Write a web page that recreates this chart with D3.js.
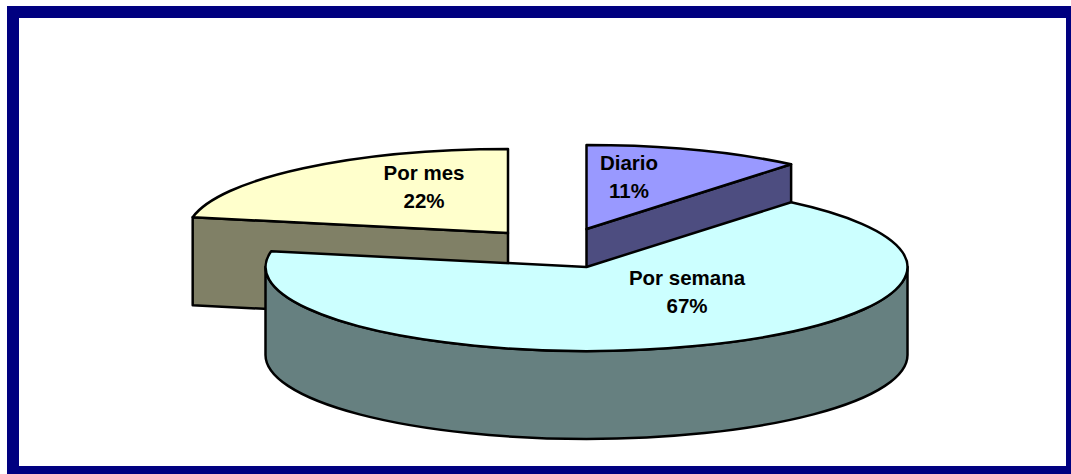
<!DOCTYPE html>
<html>

<head>
  <title>Frecuencia</title>
  <script src="https://d3js.org/d3.v7.min.js"></script>
  <style type="text/css">
    html, body {
      margin: 0;
      padding: 0;
      background: white;
    }

    svg {
      display: block;
    }

    text {
      font-family: "Liberation Sans", Arial, sans-serif;
      font-weight: bold;
      font-size: 20.5px;
      fill: black;
      text-anchor: middle;
    }
  </style>
</head>

<body>
  <div id="chart"></div>

  <script type="text/javascript">
    var categories = ["Diario", "Por semana", "Por mes"];
    var percents = [11, 67, 22];
    var topColors = ["#9999ff", "#ccffff", "#ffffcc"];
    var sideColors = ["#4d4d80", "#668080", "#808066"];

    var width = 1071, height = 474;
    var rx = 321, ry = 84, depth = 88;
    // each slice is pulled out from the pie, so it has its own centre
    var centers = [[586.5, 229], [586.5, 267], [508, 233]];
    var labelPos = [[629, 170], [687, 285], [424, 180]];

    var svg = d3.select("#chart").append("svg")
      .attr("width", width)
      .attr("height", height);

    // frame
    svg.append("rect").attr("x", 7).attr("y", 6)
      .attr("width", width - 7).attr("height", height - 6)
      .attr("fill", "#000080");
    svg.append("rect").attr("x", 19).attr("y", 18)
      .attr("width", 1047).attr("height", 448)
      .attr("fill", "white");

    var pie = d3.pie().sort(null);
    var slices = pie(percents);

    function px(c, a) { return c[0] + rx * Math.sin(a); }
    function py(c, a) { return c[1] - ry * Math.cos(a); }

    function topPath(d, c) {
      var large = d.endAngle - d.startAngle > Math.PI ? 1 : 0;
      return "M" + c[0] + "," + c[1] +
        "L" + px(c, d.startAngle) + "," + py(c, d.startAngle) +
        "A" + rx + "," + ry + " 0 " + large + " 1 " + px(c, d.endAngle) + "," + py(c, d.endAngle) + "Z";
    }

    // outer wall, only the part facing the viewer (pi/2 .. 3pi/2)
    function wallPath(d, c) {
      var a0 = Math.max(d.startAngle, Math.PI / 2);
      var a1 = Math.min(d.endAngle, 3 * Math.PI / 2);
      if (a1 <= a0) return null;
      return "M" + px(c, a0) + "," + py(c, a0) +
        "A" + rx + "," + ry + " 0 0 1 " + px(c, a1) + "," + py(c, a1) +
        "L" + px(c, a1) + "," + (py(c, a1) + depth) +
        "A" + rx + "," + ry + " 0 0 0 " + px(c, a0) + "," + (py(c, a0) + depth) + "Z";
    }

    // flat cut wall between the centre and the rim at angle a
    function cutPath(c, a, h) {
      return "M" + c[0] + "," + c[1] +
        "L" + px(c, a) + "," + py(c, a) +
        "L" + px(c, a) + "," + (py(c, a) + h) +
        "L" + c[0] + "," + (c[1] + h) + "Z";
    }

    function drawShape(d, fill) {
      svg.append("path")
        .attr("d", d)
        .attr("fill", fill)
        .attr("stroke", "black")
        .attr("stroke-width", 2.5)
        .attr("stroke-linejoin", "round");
    }

    // back to front: Por mes, Diario, then Por semana
    drawShape(cutPath(centers[2], slices[2].startAngle, depth), sideColors[2]);
    drawShape(topPath(slices[2], centers[2]), topColors[2]);

    drawShape(cutPath(centers[0], slices[0].endAngle, depth), sideColors[0]);
    drawShape(topPath(slices[0], centers[0]), topColors[0]);

    drawShape(wallPath(slices[1], centers[1]), sideColors[1]);
    drawShape(topPath(slices[1], centers[1]), topColors[1]);

    // labels
    categories.forEach(function (name, i) {
      var t = svg.append("text")
        .attr("x", labelPos[i][0])
        .attr("y", labelPos[i][1]);
      t.append("tspan").attr("x", labelPos[i][0]).text(name);
      t.append("tspan").attr("x", labelPos[i][0]).attr("dy", 28).text(percents[i] + "%");
    });
  </script>
</body>

</html>
